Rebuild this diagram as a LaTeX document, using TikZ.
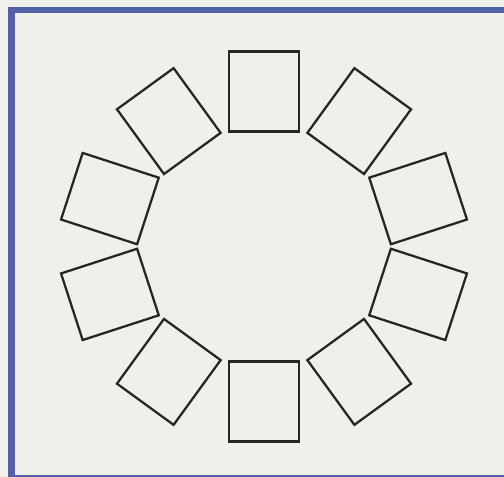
\documentclass[tikz,border=0pt]{standalone}
\usepackage{tikz}
\usetikzlibrary{positioning}
\definecolor{paper}{HTML}{F1F1EC}
\definecolor{panel}{HTML}{F0F0EA}
\definecolor{frameblue}{HTML}{5361A9}
\definecolor{inkgray}{HTML}{262626}
\tikzset{
  seat/.style={draw=inkgray, line width=1.3pt, fill=none, minimum width=1.4cm, minimum height=1.6cm, inner sep=0pt},
  panelbox/.style={draw=frameblue, line width=1.2mm, fill=panel},
}

\begin{document}
\begin{tikzpicture}[x=0.2mm, y=0.2mm]
    \useasboundingbox (0,0) rectangle (504,477);
    \clip (0,0) rectangle (504,477);
    \fill[paper] (0,0) rectangle (504,477);
    \draw[panelbox] (11.5,466.5) rectangle (510,-1);

    \node[seat, rotate=0]    (s1)  at (264,385.5) {};
    \node[seat, rotate=-36]  (s2)  at (359.2,355.9) {};
    \node[seat, rotate=-72]  (s3)  at (418.1,278.4) {};
    \node[seat, rotate=-108] (s4)  at (418.1,182.6) {};
    \node[seat, rotate=-144] (s5)  at (359.2,105.1) {};
    \node[seat, rotate=180]  (s6)  at (264,75.5) {};
    \node[seat, rotate=144]  (s7)  at (168.8,105.1) {};
    \node[seat, rotate=108]  (s8)  at (109.9,182.6) {};
    \node[seat, rotate=72]   (s9)  at (109.9,278.4) {};
    \node[seat, rotate=36]   (s10) at (168.8,355.9) {};
  \end{tikzpicture}
\end{document}
